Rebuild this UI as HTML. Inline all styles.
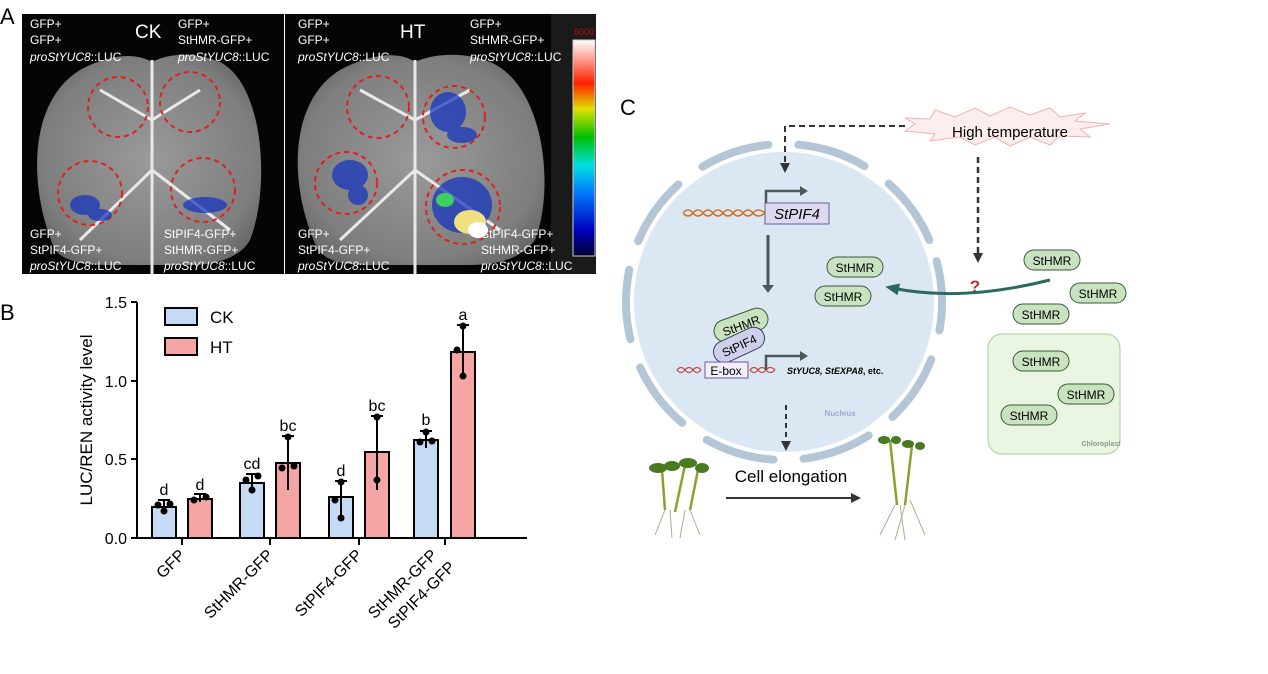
<!DOCTYPE html>
<html><head><meta charset="utf-8"><style>
body{margin:0;background:#fff;width:1268px;height:674px;overflow:hidden;font-family:"Liberation Sans",sans-serif}
svg{position:absolute;left:0;top:0}
</style></head><body>
<svg width="1268" height="674" viewBox="0 0 1268 674" font-family="Liberation Sans, sans-serif">
<defs>
<radialGradient id="leaf" cx="50%" cy="50%" r="60%"><stop offset="0" stop-color="#9a9a9a"/><stop offset="0.8" stop-color="#7e7e7e"/><stop offset="1" stop-color="#666"/></radialGradient>
<linearGradient id="cb" x1="0" y1="1" x2="0" y2="0"><stop offset="0" stop-color="#000030"/><stop offset="0.12" stop-color="#0000c0"/><stop offset="0.3" stop-color="#0080ff"/><stop offset="0.42" stop-color="#00e0e0"/><stop offset="0.55" stop-color="#00c000"/><stop offset="0.68" stop-color="#e0e000"/><stop offset="0.8" stop-color="#ff2000"/><stop offset="1" stop-color="#fff"/></linearGradient>
<marker id="ah" markerUnits="userSpaceOnUse" markerWidth="10" markerHeight="10" refX="5" refY="5" orient="auto"><path d="M0,0L10,5L0,10z" fill="#333"/></marker>
<marker id="ah2" markerUnits="userSpaceOnUse" markerWidth="14" markerHeight="12" refX="7" refY="6" orient="auto"><path d="M0,0L14,6L0,12z" fill="#2a6a60"/></marker>
</defs>
<!-- Panel A -->
<text x="0" y="24" font-size="22">A</text>
<rect x="22" y="14" width="262" height="260" fill="#050505"/>
<rect x="285" y="14" width="288" height="260" fill="#050505"/>
<rect x="551" y="14" width="45" height="260" fill="#1a1a1a"/>
<path d="M55,250 C25,180 30,90 90,65 C120,52 140,55 152,62 C165,55 190,50 220,62 C265,85 270,190 250,240 C240,258 215,265 190,265 L110,265 C85,265 65,262 55,250Z" fill="url(#leaf)"/>
<path d="M318,250 C285,180 290,90 350,65 C385,50 405,55 415,62 C430,55 460,50 490,62 C545,85 555,190 535,240 C520,260 495,265 470,265 L370,265 C345,265 328,262 318,250Z" fill="url(#leaf)"/>
<path d="M152,60 L152,274 M152,170 L80,240 M152,170 L230,230 M152,120 L100,90 M152,120 L200,90" stroke="#e8e8e8" stroke-width="3" fill="none"/>
<path d="M415,60 L415,274 M415,170 L340,240 M415,170 L500,230 M415,120 L360,90 M415,120 L470,90" stroke="#e8e8e8" stroke-width="3" fill="none"/>
<g fill="none" stroke="#e02020" stroke-width="2" stroke-dasharray="5,4">
<circle cx="118" cy="107" r="30"/><circle cx="190" cy="102" r="30"/><circle cx="90" cy="193" r="32"/><circle cx="203" cy="190" r="32"/>
<circle cx="378" cy="107" r="31"/><circle cx="454" cy="117" r="31"/><circle cx="346" cy="183" r="31"/><circle cx="463" cy="207" r="37"/>
</g>
<g fill="#1030c0" opacity="0.7"><ellipse cx="85" cy="205" rx="15" ry="10"/><ellipse cx="100" cy="215" rx="12" ry="6"/><ellipse cx="205" cy="205" rx="22" ry="8"/><ellipse cx="350" cy="175" rx="18" ry="15"/><ellipse cx="358" cy="195" rx="10" ry="10"/><ellipse cx="448" cy="112" rx="18" ry="20"/><ellipse cx="462" cy="135" rx="15" ry="8"/><ellipse cx="462" cy="205" rx="30" ry="28"/></g>
<ellipse cx="470" cy="222" rx="16" ry="12" fill="#f0e080"/><ellipse cx="478" cy="230" rx="10" ry="8" fill="#fff"/>
<ellipse cx="445" cy="200" rx="9" ry="7" fill="#40d060"/>
<rect x="573" y="40" width="22" height="216" fill="url(#cb)" stroke="#ccc"/>
<text x="574" y="35" font-size="9" fill="#c01010">6000</text>
<g fill="#fff" font-size="12">
<text x="30" y="28">GFP+</text><text x="30" y="44">GFP+</text><text x="30" y="61"><tspan font-style="italic">proStYUC8</tspan>::LUC</text>
<text x="178" y="28">GFP+</text><text x="178" y="44">StHMR-GFP+</text><text x="178" y="61"><tspan font-style="italic">proStYUC8</tspan>::LUC</text>
<text x="30" y="238">GFP+</text><text x="30" y="254">StPIF4-GFP+</text><text x="30" y="270"><tspan font-style="italic">proStYUC8</tspan>::LUC</text>
<text x="164" y="238">StPIF4-GFP+</text><text x="164" y="254">StHMR-GFP+</text><text x="164" y="270"><tspan font-style="italic">proStYUC8</tspan>::LUC</text>
<text x="298" y="28">GFP+</text><text x="298" y="44">GFP+</text><text x="298" y="61"><tspan font-style="italic">proStYUC8</tspan>::LUC</text>
<text x="470" y="28">GFP+</text><text x="470" y="44">StHMR-GFP+</text><text x="470" y="61"><tspan font-style="italic">proStYUC8</tspan>::LUC</text>
<text x="298" y="238">GFP+</text><text x="298" y="254">StPIF4-GFP+</text><text x="298" y="270"><tspan font-style="italic">proStYUC8</tspan>::LUC</text>
<text x="481" y="238">StPIF4-GFP+</text><text x="481" y="254">StHMR-GFP+</text><text x="481" y="270"><tspan font-style="italic">proStYUC8</tspan>::LUC</text>
<text x="135" y="38" font-size="19">CK</text><text x="400" y="38" font-size="19">HT</text>
</g>
<!-- Panel B -->
<text x="0" y="320" font-size="22">B</text>
<text transform="translate(92,420) rotate(-90)" font-size="17" text-anchor="middle">LUC/REN activity level</text>
<g font-size="16" text-anchor="end"><text x="127" y="308">1.5</text><text x="127" y="387">1.0</text><text x="127" y="465">0.5</text><text x="127" y="544">0.0</text></g>
<g stroke="#000" stroke-width="2" fill="none"><path d="M137,302 V538 H527"/><path d="M131,302H137M131,381H137M131,459H137M131,538H137M182,538V545M270,538V545M359,538V545M445,538V545"/></g>
<g stroke="#000" stroke-width="2">
<rect x="152" y="507" width="24" height="31" fill="#c5daf5"/><rect x="188" y="499" width="24" height="39" fill="#f6a5a5"/>
<rect x="240" y="483" width="24" height="55" fill="#c5daf5"/><rect x="276" y="463" width="24" height="75" fill="#f6a5a5"/>
<rect x="329" y="497" width="24" height="41" fill="#c5daf5"/><rect x="365" y="452" width="24" height="86" fill="#f6a5a5"/>
<rect x="414" y="440" width="24" height="98" fill="#c5daf5"/><rect x="451" y="352" width="24" height="186" fill="#f6a5a5"/>
<path d="M164,500V512M158,500H170M200,494V502M194,494H206M252,474V491M246,474H258M288,436V490M282,436H294M341,481V520M335,481H347M377,416V490M371,416H383M426,431V448M420,431H432M463,325V377M457,325H469" fill="none"/>
</g>
<g fill="#000"><circle cx="158" cy="505" r="3.5"/><circle cx="164" cy="511" r="3.5"/><circle cx="170" cy="504" r="3.5"/><circle cx="194" cy="500" r="3.5"/><circle cx="206" cy="497" r="3.5"/>
<circle cx="246" cy="480" r="3.5"/><circle cx="252" cy="490" r="3.5"/><circle cx="258" cy="476" r="3.5"/><circle cx="282" cy="468" r="3.5"/><circle cx="288" cy="437" r="3.5"/><circle cx="294" cy="466" r="3.5"/>
<circle cx="341" cy="482" r="3.5"/><circle cx="335" cy="500" r="3.5"/><circle cx="341" cy="518" r="3.5"/><circle cx="377" cy="417" r="3.5"/><circle cx="377" cy="480" r="3.5"/>
<circle cx="426" cy="432" r="3.5"/><circle cx="420" cy="442" r="3.5"/><circle cx="432" cy="441" r="3.5"/><circle cx="463" cy="326" r="3.5"/><circle cx="457" cy="350" r="3.5"/><circle cx="463" cy="376" r="3.5"/></g>
<g font-size="16" text-anchor="middle"><text x="164" y="495">d</text><text x="200" y="490">d</text><text x="252" y="469">cd</text><text x="288" y="431">bc</text><text x="341" y="476">d</text><text x="377" y="411">bc</text><text x="426" y="425">b</text><text x="463" y="320">a</text></g>
<rect x="165" y="308" width="32" height="17" fill="#c5daf5" stroke="#000" stroke-width="2"/><text x="210" y="323" font-size="17">CK</text>
<rect x="165" y="338" width="32" height="17" fill="#f6a5a5" stroke="#000" stroke-width="2"/><text x="210" y="353" font-size="17">HT</text>
<g font-size="16" text-anchor="end">
<text transform="translate(186,556) rotate(-45)">GFP</text>
<text transform="translate(274,556) rotate(-45)">StHMR-GFP</text>
<text transform="translate(363,556) rotate(-45)">StPIF4-GFP</text>
<text transform="translate(438,556) rotate(-45)">StHMR-GFP</text>
<text transform="translate(456,568) rotate(-45)">StPIF4-GFP</text>
</g>
<!-- Panel C -->
<text x="620" y="115" font-size="22">C</text>
<circle cx="784" cy="302" r="150" fill="#dbe8f3"/>
<circle cx="784" cy="302" r="158" fill="none" stroke="#b4c6d6" stroke-width="8" stroke-linecap="round" stroke-dasharray="70,30" transform="rotate(-15 784 302)"/>
<path d="M905,131 L915,124 905,118 930,119 935,110 955,117 975,108 990,116 1010,107 1030,115 1050,108 1060,117 1085,113 1075,121 1110,124 1080,129 1090,137 1060,136 1050,145 1030,137 1010,146 995,137 975,145 960,137 930,141 935,134Z" fill="#fdeeee" stroke="#f0b0b0"/>
<text x="1010" y="137" font-size="15" text-anchor="middle">High temperature</text>
<path d="M905,126 H785 V168" stroke="#333" stroke-width="2" stroke-dasharray="6,4" fill="none" marker-end="url(#ah)"/>
<path d="M978,157 V258" stroke="#333" stroke-width="2.5" stroke-dasharray="6,4" fill="none" marker-end="url(#ah)"/>
<text x="975" y="292" font-size="17" font-weight="bold" fill="#c03030" text-anchor="middle">?</text>
<path d="M1050,280 C1010,290 950,300 892,288" stroke="#2a6a60" stroke-width="3" fill="none" marker-end="url(#ah2)"/>
<path d="M683,213 Q688,207 693,213 T703,213 T713,213 T723,213 T733,213 T743,213 T753,213 T765,213 M683,213 Q688,219 693,213 T703,213 T713,213 T723,213 T733,213 T743,213 T753,213 T765,213" stroke="#d07020" stroke-width="1.5" fill="none"/>
<rect x="765" y="203" width="64" height="21" fill="#ddd9f0" stroke="#6a5a9a"/>
<text x="797" y="219" font-size="15" font-style="italic" text-anchor="middle">StPIF4</text>
<path d="M766,203 V191 H800" stroke="#4a5a5a" stroke-width="2.5" fill="none"/><path d="M800,186 L808,191 800,196Z" fill="#4a5a5a"/>
<path d="M768,235 V288" stroke="#4a5a5a" stroke-width="3"/><path d="M762,285 L768,293 774,285Z" fill="#4a5a5a"/>
<g font-size="12" text-anchor="middle">
<rect x="827" y="257" width="56" height="20" rx="10" fill="#c9e3c0" stroke="#3a5a3a"/><text x="855" y="272">StHMR</text>
<rect x="815" y="286" width="56" height="20" rx="10" fill="#c9e3c0" stroke="#3a5a3a"/><text x="843" y="301">StHMR</text>
<rect x="1024" y="250" width="56" height="20" rx="10" fill="#c9e3c0" stroke="#3a5a3a"/><text x="1052" y="265">StHMR</text>
<rect x="1070" y="283" width="56" height="20" rx="10" fill="#c9e3c0" stroke="#3a5a3a"/><text x="1098" y="298">StHMR</text>
<rect x="1013" y="304" width="56" height="20" rx="10" fill="#c9e3c0" stroke="#3a5a3a"/><text x="1041" y="319">StHMR</text>
<rect x="988" y="334" width="132" height="120" rx="14" fill="#eaf6e2" stroke="#a8d098"/>
<rect x="1013" y="351" width="56" height="20" rx="10" fill="#c9e3c0" stroke="#3a5a3a"/><text x="1041" y="366">StHMR</text>
<rect x="1058" y="384" width="56" height="20" rx="10" fill="#c9e3c0" stroke="#3a5a3a"/><text x="1086" y="399">StHMR</text>
<rect x="1001" y="405" width="56" height="20" rx="10" fill="#c9e3c0" stroke="#3a5a3a"/><text x="1029" y="420">StHMR</text>
<rect x="713" y="314" width="56" height="22" rx="11" fill="#c9e3c0" stroke="#3a5a3a" transform="rotate(-20 741 325)"/><text x="741" y="330" transform="rotate(-20 741 325)">StHMR</text>
<rect x="712" y="334" width="54" height="22" rx="11" fill="#cfd0ea" stroke="#3a3a6a" transform="rotate(-25 739 345)"/><text x="739" y="350" transform="rotate(-25 739 345)">StPIF4</text>
</g>
<text x="1101" y="446" font-size="7" fill="#8a9a8a" text-anchor="middle" font-weight="bold">Chloroplast</text>
<path d="M677,370 Q681,365 685,370 T693,370 T701,370 M677,370 Q681,375 685,370 T693,370 T701,370 M750,370 Q754,365 758,370 T766,370 T775,370 M750,370 Q754,375 758,370 T766,370 T775,370" stroke="#c05050" stroke-width="1.3" fill="none"/>
<rect x="705" y="362" width="43" height="16" fill="#f3eefa" stroke="#6a5a9a"/><text x="726" y="375" font-size="12" text-anchor="middle">E-box</text>
<path d="M766,370 V356 H800" stroke="#4a5a5a" stroke-width="2.5" fill="none"/><path d="M800,351 L808,356 800,361Z" fill="#4a5a5a"/>
<text x="787" y="374" font-size="9" font-weight="bold" font-style="italic">StYUC8, StEXPA8<tspan font-style="normal">, etc.</tspan></text>
<text x="840" y="416" font-size="8" fill="#9aabd0" text-anchor="middle" font-weight="bold">Nucleus</text>
<path d="M786,405 V446" stroke="#333" stroke-width="2" stroke-dasharray="5,4" marker-end="url(#ah)"/>
<text x="791" y="482" font-size="17" text-anchor="middle">Cell elongation</text>
<path d="M726,498 H856" stroke="#333" stroke-width="2" marker-end="url(#ah)"/>
<g fill="none" stroke="#b8a890" stroke-width="1"><path d="M665,510 L655,535 M670,510 L672,538 M690,510 L700,535 M685,510 L680,538"/><path d="M895,505 L880,535 M900,505 L905,540 M910,500 L925,535 M905,505 L895,540"/></g>
<g stroke="#8aa030" stroke-width="2.5" fill="none"><path d="M665,510 L662,470 M675,512 L685,465 M690,510 L698,470"/><path d="M897,505 L890,440 M905,505 L912,445"/></g>
<g fill="#4a7a20"><ellipse cx="658" cy="468" rx="9" ry="5"/><ellipse cx="672" cy="466" rx="8" ry="5"/><ellipse cx="688" cy="463" rx="9" ry="5"/><ellipse cx="702" cy="468" rx="7" ry="5"/><ellipse cx="884" cy="440" rx="6" ry="4"/><ellipse cx="896" cy="440" rx="5" ry="4"/><ellipse cx="908" cy="444" rx="6" ry="4"/><ellipse cx="920" cy="446" rx="5" ry="4"/></g>
</svg>
</body></html>
